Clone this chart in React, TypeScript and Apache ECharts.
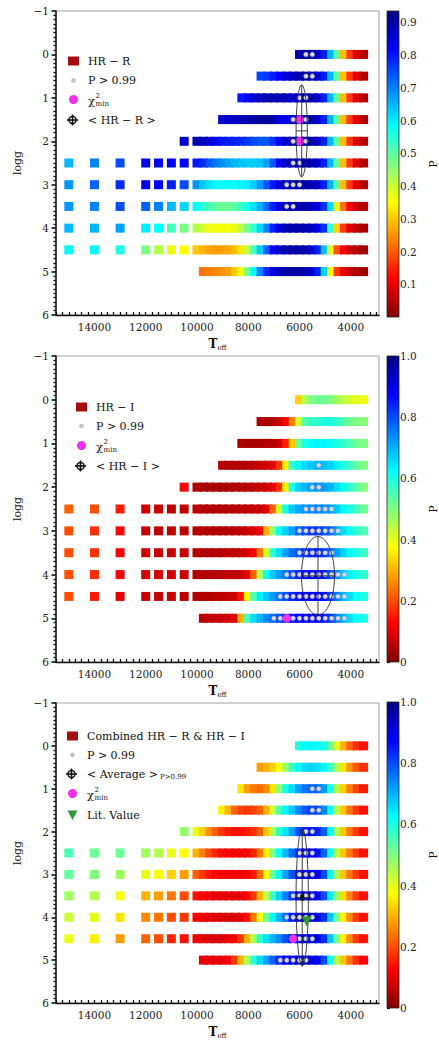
import React, { useEffect, useRef } from "react";
import * as echarts from "echarts";

const gap = (k: number) => Array(k).fill(null);

// Teff grid: isolated squares (15000..10500) then dense strip (10000..3500)
const TEFF = [15000, 14000, 13000, 12000, 11500, 11000, 10500,
  10000, 9750, 9500, 9250, 9000, 8750, 8500, 8250, 8000, 7750,
  7500, 7250, 7000, 6750, 6500, 6250, 6000, 5750, 5500,
  5250, 5000, 4750, 4500, 4250, 4000, 3750, 3500];
const LOGG = [0, 0.5, 1, 1.5, 2, 2.5, 3, 3.5, 4, 4.5, 5];

// Panel 1: HR - R probabilities (one row per logg)
const P_HRR = [
  [...gap(23), .89, .91, .9, .87, .79, .65, .5, .29, .17, .09, .05],
  [...gap(17), .76, .77, .79, .82, .85, .87, .89, .91, .89, .86, .79, .65, .5, .29, .17, .09, .05],
  [...gap(14), .80, .82, .86, .88, .89, .89, .89, .88, .87, .88, .9, .9, .87, .79, .65, .5, .29, .17, .09, .05],
  [...gap(11), .86, .87, .87, .88, .89, .9, .91, .91, .9, .85, .83, .86, .89, .9, .9, .87, .79, .65, .5, .29, .17, .09, .05],
  [...gap(6), .86, .89, .88, .86, .83, .80, .79, .79, .78, .77, .75, .74, .74, .77, .83, .87, .89, .9, .91, .9, .87, .79, .65, .5, .29, .17, .09, .05],
  [.65, .70, .75, .84, .84, .82, .82, .80, .78, .74, .71, .69, .67, .65, .64, .63, .63, .64, .67, .74, .82, .87, .89, .89, .9, .89, .87, .79, .65, .5, .29, .17, .09, .05],
  [.68, .73, .78, .84, .82, .79, .75, .68, .64, .61, .59, .58, .58, .58, .59, .6, .63, .68, .74, .8, .85, .88, .89, .9, .9, .89, .87, .79, .65, .5, .29, .17, .09, .05],
  [.68, .7, .75, .73, .7, .65, .62, .58, .55, .52, .5, .49, .49, .5, .53, .57, .61, .66, .72, .79, .85, .88, .89, .89, .89, .88, .84, .77, .62, .37, .22, .12, .07, .05],
  [.65, .65, .67, .6, .58, .52, .47, .42, .39, .37, .36, .36, .36, .37, .41, .47, .54, .62, .70, .79, .85, .88, .89, .89, .89, .88, .84, .77, .54, .31, .17, .09, .06, .04],
  [.59, .59, .56, .47, .42, .37, .35, .30, .28, .27, .26, .26, .27, .29, .33, .40, .52, .63, .73, .82, .87, .89, .9, .9, .89, .87, .79, .64, .37, .19, .11, .07, .05, .03],
  [...gap(8), .22, .23, .24, .25, .26, .3, .36, .47, .58, .7, .78, .85, .88, .89, .9, .9, .89, .87, .79, .62, .36, .17, .1, .07, .05, .03],
];

// Panel 2: HR - I probabilities
const P_HRI = [
  [...gap(23), .33, .45, .5, .52, .52, .5, .47, .44, .42, .4, .39],
  [...gap(17), .04, .04, .05, .07, .12, .25, .42, .54, .57, .58, .6, .6, .58, .55, .52, .5, .49],
  [...gap(14), .04, .04, .04, .04, .05, .05, .07, .15, .32, .52, .6, .62, .63, .63, .62, .6, .58, .55, .52, .5],
  [...gap(11), .05, .05, .05, .05, .05, .06, .07, .08, .1, .18, .36, .58, .63, .66, .68, .7, .69, .67, .64, .6, .57, .53, .5],
  [...gap(6), .12, .05, .04, .04, .04, .04, .04, .05, .05, .05, .06, .07, .08, .1, .17, .36, .6, .67, .7, .72, .73, .72, .7, .66, .62, .58, .54, .5],
  [.22, .2, .15, .08, .07, .06, .06, .06, .05, .05, .05, .05, .05, .05, .06, .06, .07, .07, .1, .22, .42, .6, .68, .71, .73, .74, .74, .73, .72, .68, .63, .6, .56, .52],
  [.2, .17, .13, .07, .06, .06, .06, .05, .05, .05, .05, .05, .05, .06, .06, .07, .09, .12, .3, .48, .62, .67, .72, .78, .8, .82, .82, .8, .78, .72, .66, .62, .58, .55],
  [.2, .17, .12, .08, .07, .07, .07, .05, .05, .05, .05, .05, .06, .06, .07, .08, .12, .24, .42, .58, .66, .72, .77, .8, .82, .84, .84, .82, .78, .72, .67, .63, .6, .57],
  [.2, .17, .12, .08, .08, .08, .07, .05, .05, .05, .05, .05, .06, .06, .07, .1, .22, .45, .62, .68, .72, .76, .8, .84, .86, .87, .87, .85, .8, .74, .68, .64, .6, .58],
  [.2, .15, .1, .07, .07, .07, .06, .05, .05, .05, .06, .06, .07, .08, .14, .36, .55, .64, .68, .72, .76, .8, .84, .86, .88, .88, .88, .86, .82, .76, .7, .66, .62, .6],
  [...gap(8), .06, .06, .07, .07, .08, .1, .3, .55, .66, .7, .74, .77, .8, .83, .86, .87, .88, .88, .88, .86, .82, .76, .7, .66, .62, .6],
];

// Panel 3: combined HR - R & HR - I probabilities
const P_COMB = [
  [...gap(23), .6, .62, .63, .62, .6, .52, .4, .3, .22, .17, .14],
  [...gap(17), .28, .3, .33, .38, .47, .57, .63, .66, .67, .66, .63, .57, .46, .35, .27, .21, .17],
  [...gap(14), .35, .28, .24, .23, .26, .35, .48, .6, .66, .72, .76, .78, .77, .72, .6, .45, .33, .25, .19, .15],
  [...gap(11), .36, .3, .22, .19, .18, .19, .22, .3, .42, .55, .63, .68, .74, .79, .81, .8, .74, .62, .45, .32, .24, .18, .14],
  [...gap(6), .48, .4, .33, .27, .22, .18, .15, .14, .14, .15, .17, .22, .32, .45, .58, .65, .72, .8, .85, .86, .84, .78, .63, .46, .32, .24, .18, .14],
  [.55, .52, .52, .47, .45, .4, .37, .3, .25, .2, .16, .14, .13, .12, .12, .13, .16, .24, .36, .5, .62, .7, .77, .84, .87, .88, .86, .78, .62, .45, .32, .24, .18, .14],
  [.53, .5, .47, .4, .38, .33, .28, .22, .18, .15, .13, .12, .11, .11, .11, .12, .15, .23, .37, .52, .63, .72, .8, .86, .89, .9, .88, .8, .63, .46, .32, .24, .18, .14],
  [.47, .45, .39, .3, .28, .24, .2, .14, .12, .11, .1, .1, .1, .1, .1, .12, .18, .3, .44, .57, .67, .75, .83, .88, .9, .9, .88, .8, .64, .48, .34, .25, .18, .14],
  [.43, .4, .35, .26, .24, .2, .18, .12, .11, .1, .09, .09, .09, .09, .1, .14, .24, .38, .52, .62, .7, .77, .85, .9, .92, .92, .9, .83, .68, .52, .36, .26, .18, .14],
  [.4, .36, .28, .22, .2, .16, .14, .11, .1, .09, .09, .09, .1, .12, .18, .3, .45, .58, .65, .7, .74, .8, .86, .9, .92, .92, .9, .83, .68, .52, .36, .26, .18, .14],
  [...gap(8), .1, .1, .1, .1, .12, .18, .3, .45, .58, .66, .72, .78, .84, .88, .9, .92, .92, .91, .88, .8, .62, .45, .32, .24, .17, .13],
];

// models with P > 0.99 [Teff, logg]
const HIGH_HRR = [[5750, 0], [5500, 0], [5750, 0.5], [5500, 0.5], [6000, 1], [5750, 1],
  [6250, 1.5], [6000, 1.5], [5750, 1.5], [6250, 2], [6000, 2], [5750, 2],
  [6250, 2.5], [6000, 2.5], [6500, 3], [6250, 3], [6000, 3], [6500, 3.5], [6250, 3.5]];
const HIGH_HRI = [[5250, 1.5], [5500, 2], [5250, 2],
  [5750, 2.5], [5500, 2.5], [5250, 2.5], [5000, 2.5], [4750, 2.5],
  [6000, 3], [5750, 3], [5500, 3], [5250, 3], [5000, 3], [4750, 3], [4500, 3],
  [6000, 3.5], [5750, 3.5], [5500, 3.5], [5250, 3.5], [5000, 3.5], [4750, 3.5],
  [6500, 4], [6250, 4], [6000, 4], [5750, 4], [5500, 4], [5250, 4], [5000, 4], [4750, 4], [4500, 4], [4250, 4],
  [6750, 4.5], [6500, 4.5], [6250, 4.5], [6000, 4.5], [5750, 4.5], [5500, 4.5], [5250, 4.5], [5000, 4.5], [4750, 4.5], [4500, 4.5], [4250, 4.5],
  [7000, 5], [6750, 5], [6250, 5], [6000, 5], [5750, 5], [5500, 5], [5250, 5], [5000, 5], [4750, 5], [4500, 5], [4250, 5]];
const HIGH_COMB = [[5500, 1], [5250, 1], [5500, 1.5], [5250, 1.5], [5750, 2], [5500, 2],
  [6000, 2.5], [5750, 2.5], [5500, 2.5], [6000, 3], [5750, 3], [5500, 3],
  [6250, 3.5], [6000, 3.5], [5750, 3.5], [5500, 3.5],
  [6500, 4], [6250, 4], [6000, 4], [5750, 4], [5500, 4],
  [6000, 4.5], [5750, 4.5], [5500, 4.5],
  [6750, 5], [6500, 5], [6250, 5], [6000, 5], [5750, 5]];

// chi2 minimum [Teff, logg]
const CHI_HRR = [[6000, 1.5], [6000, 2]];
const CHI_HRI = [[6500, 5]];
const CHI_COMB = [[6250, 4.5]];

// mean and spread [Teff, logg, sigmaTeff, sigmaLogg]
const MEAN_HRR = [[5915, 1.76, 220, 1.06]];
const MEAN_HRI = [[5280, 4.03, 645, 0.9]];
const MEAN_COMB = [[5895, 3.54, 240, 1.6]];

// literature value [Teff, logg]
const LIT_COMB = [[5720, 4.1]];

const X_LABELS = [4000, 6000, 8000, 10000, 12000, 14000];
const CB_LABELS = [
  [0.1, 0.2, 0.3, 0.4, 0.5, 0.6, 0.7, 0.8, 0.9],
  [0, 0.2, 0.4, 0.6, 0.8, 1.0],
  [0, 0.2, 0.4, 0.6, 0.8, 1.0],
];
const CB_MAX = [0.935, 1, 1];

const JET_R = ["#800000", "#ff0000", "#ff8000", "#ffff00", "#80ff80", "#00ffff", "#0080ff", "#0000ff", "#000080"];
const FONT = '"DejaVu Serif", serif';
const TOPS = [11, 356, 703];
const HEIGHTS = [304, 306, 305];
const CB_TOPS = [11, 356, 702];

function gridData(P: (number | null)[][]) {
  const out: number[][] = [];
  P.forEach((row, i) => {
    row.forEach((v, j) => {
      if (v !== null && v !== undefined) out.push([TEFF[j], LOGG[i], v]);
    });
  });
  return out;
}

function txt(x: number, y: number, text: string, size = 11, extra: any = {}) {
  return {
    type: "text", x, y, z: 10,
    style: { text, fill: "#111", font: `${size}px ${FONT}`, verticalAlign: "middle", textVerticalAlign: "middle", align: "left", ...extra },
  };
}

function legendSquare(cx: number, y: number) {
  return { type: "rect", z: 10, shape: { x: cx - 5.5, y: y - 4.5, width: 11, height: 9 }, style: { fill: "#a30f0f" } };
}
function legendDot(cx: number, y: number) {
  return { type: "circle", z: 10, shape: { cx, cy: y, r: 2.4 }, style: { fill: "#c4c4cc" } };
}
function legendChi(cx: number, y: number) {
  return { type: "circle", z: 10, shape: { cx, cy: y, r: 4.5 }, style: { fill: "#f030f0" } };
}
function legendCross(cx: number, y: number) {
  return {
    type: "group", z: 10, children: [
      { type: "circle", shape: { cx, cy: y, r: 3.6 }, style: { fill: "none", stroke: "#111", lineWidth: 1.4 } },
      { type: "line", shape: { x1: cx - 5.5, y1: y, x2: cx + 5.5, y2: y }, style: { stroke: "#111", lineWidth: 1.6 } },
      { type: "line", shape: { x1: cx, y1: y - 5.5, x2: cx, y2: y + 5.5 }, style: { stroke: "#111", lineWidth: 1.6 } },
    ],
  };
}
function legendTri(cx: number, y: number) {
  return { type: "polygon", z: 10, shape: { points: [[cx - 5, y - 4.5], [cx + 5, y - 4.5], [cx, y + 5]] }, style: { fill: "#2b9a35" } };
}
function chiText(x: number, y: number) {
  return [txt(x, y + 1, "χ", 11.5), txt(x + 7.5, y - 4, "2", 7), txt(x + 7.5, y + 4, "min", 7)];
}

function buildOption() {
  const grid: any[] = [];
  const xAxis: any[] = [];
  const yAxis: any[] = [];
  const series: any[] = [];
  const visualMap: any[] = [];
  const graphic: any[] = [];

  const xTicks: number[] = [];
  for (let t = 3000; t <= 15500; t += 250) xTicks.push(t);

  const panels = [
    { P: P_HRR, high: HIGH_HRR, chi: CHI_HRR, mean: MEAN_HRR, lit: null as any },
    { P: P_HRI, high: HIGH_HRI, chi: CHI_HRI, mean: MEAN_HRI, lit: null as any },
    { P: P_COMB, high: HIGH_COMB, chi: CHI_COMB, mean: MEAN_COMB, lit: LIT_COMB },
  ];

  panels.forEach((pan, p) => {
    grid.push({ left: 56, top: TOPS[p], width: 323, height: HEIGHTS[p], show: true, borderColor: "#8c8c8c", borderWidth: 0.8, backgroundColor: "transparent" });
    xAxis.push({
      gridIndex: p, type: "value", min: 2900, max: 15500, inverse: true,
      axisLine: { show: true, onZero: false, lineStyle: { color: "#111", width: 1.3 } },
      axisTick: { show: true, inside: true, length: 3, customValues: xTicks, lineStyle: { color: "#111", width: 1.3 } },
      axisLabel: { customValues: X_LABELS, margin: 6, fontSize: 10.5, color: "#222", fontFamily: FONT, formatter: (v: number) => String(v) },
      splitLine: { show: false },
      name: "{t|T}{s|eff}", nameLocation: "middle", nameGap: 22,
      nameTextStyle: {
        color: "#111", fontFamily: FONT,
        rich: {
          t: { fontSize: 12, fontFamily: FONT, fontWeight: "bold", color: "#111", lineHeight: 14 },
          s: { fontSize: 7, fontFamily: FONT, color: "#111", verticalAlign: "bottom", padding: [7, 0, 0, 0] },
        },
      },
    });
    yAxis.push({
      gridIndex: p, type: "value", min: -1, max: 6, interval: 1, inverse: true,
      axisLine: { show: true, onZero: false, lineStyle: { color: "#111", width: 1.5 } },
      axisTick: { show: true, length: 4.5, lineStyle: { color: "#111", width: 1.6 } },
      minorTick: { show: true, splitNumber: 10, length: 2.5, lineStyle: { color: "#111", width: 1.4 } },
      axisLabel: { margin: 7, fontSize: 10.5, color: "#222", fontFamily: FONT, formatter: (v: number) => (v < 0 ? "\u2212" + Math.abs(v) : String(v)) },
      splitLine: { show: false },
      name: "logg", nameLocation: "middle", nameGap: 30,
      nameTextStyle: { fontSize: 11, fontFamily: FONT, color: "#111" },
    });

    const mainIdx = series.length;
    series.push({
      type: "scatter", xAxisIndex: p, yAxisIndex: p, symbol: "rect", symbolSize: 9,
      itemStyle: { opacity: 1 },
      data: gridData(pan.P), z: 2, silent: true, animation: false,
    });
    visualMap.push({ type: "continuous", show: false, seriesIndex: mainIdx, dimension: 2, min: 0, max: CB_MAX[p], inRange: { color: JET_R } });

    series.push({
      type: "scatter", xAxisIndex: p, yAxisIndex: p, symbol: "circle", symbolSize: 4.6,
      itemStyle: { color: "#d6d6e2", borderColor: "#9a9ab0", borderWidth: 0.4, opacity: 1 }, data: pan.high, z: 4, silent: true,
    });
    series.push({
      type: "scatter", xAxisIndex: p, yAxisIndex: p, symbol: "circle", symbolSize: 8.5,
      itemStyle: { color: "#f030f0", opacity: 1 }, data: pan.chi, z: 5, silent: true,
    });
    series.push({
      type: "custom", xAxisIndex: p, yAxisIndex: p, data: pan.mean, z: 6, silent: true,
      encode: { x: 0, y: 1 },
      renderItem: (params: any, api: any) => {
        const T = api.value(0), g = api.value(1), sT = api.value(2), sG = api.value(3);
        const c = api.coord([T, g]);
        const px = api.coord([T - sT, g]);
        const py = api.coord([T, g + sG]);
        const rx = Math.abs(px[0] - c[0]);
        const ry = Math.abs(py[1] - c[1]);
        const st = { stroke: "#2a2a3a", lineWidth: 0.9, fill: "none" };
        const children: any[] = [
          { type: "ellipse", shape: { cx: c[0], cy: c[1], rx, ry }, style: st },
          { type: "line", shape: { x1: c[0], y1: c[1] - ry, x2: c[0], y2: c[1] + ry }, style: st },
          { type: "line", shape: { x1: c[0] - rx, y1: c[1], x2: c[0] + rx, y2: c[1] }, style: st },
        ];
        if (p === 2) children.push({ type: "rect", shape: { x: c[0] - 2, y: c[1] - 3, width: 4, height: 6 }, style: { fill: "#111" } });
        return { type: "group", children };
      },
    });
    if (pan.lit) {
      series.push({
        type: "scatter", xAxisIndex: p, yAxisIndex: p, symbol: "triangle", symbolRotate: 180, symbolSize: 10,
        itemStyle: { color: "#2b9a35", opacity: 1 }, data: pan.lit, z: 7, silent: true,
      });
    }
  });

  // colorbars
  panels.forEach((_, p) => {
    const gi = 3 + p;
    grid.push({ left: 387, top: CB_TOPS[p], width: 12, height: 306 });
    xAxis.push({ gridIndex: gi, type: "value", show: false, min: 0, max: 1 });
    yAxis.push({
      gridIndex: gi, type: "value", position: "right", min: 0, max: CB_MAX[p],
      axisLine: { show: false },
      axisTick: { show: true, length: 3, customValues: CB_LABELS[p], lineStyle: { color: "#111", width: 1.2 } },
      axisLabel: {
        customValues: CB_LABELS[p], margin: 5, fontSize: 10.5, color: "#222", fontFamily: FONT,
        formatter: (v: number) => (v === 0 ? "0" : v.toFixed(1)),
      },
      splitLine: { show: false },
      name: "P", nameLocation: "middle", nameGap: 32, nameRotate: 90,
      nameTextStyle: { fontSize: 10.5, fontFamily: FONT, color: "#111" },
    });
    graphic.push({
      type: "rect", z: 1,
      shape: { x: 387, y: CB_TOPS[p], width: 12, height: 306 },
      style: {
        fill: { type: "linear", x: 0, y: 1, x2: 0, y2: 0, colorStops: JET_R.map((c, i) => ({ offset: i / (JET_R.length - 1), color: c })) },
        stroke: "#222", lineWidth: 0.8,
      },
    });
  });

  // legends
  // panel 1
  graphic.push(legendSquare(73.5, 61), txt(88, 61, "HR − R"));
  graphic.push(legendDot(73.5, 80.5), txt(88, 80.5, "P > 0.99"));
  graphic.push(legendChi(73.5, 99.5), ...chiText(88, 99.5));
  graphic.push(legendCross(72.5, 120), txt(88, 120, "< HR − R >"));
  // panel 2
  graphic.push(legendSquare(81.5, 407), txt(96, 407, "HR − I"));
  graphic.push(legendDot(81.5, 426), txt(96, 426, "P > 0.99"));
  graphic.push(legendChi(81.5, 445.5), ...chiText(96, 445.5));
  graphic.push(legendCross(80.5, 466), txt(96, 466, "< HR − I >"));
  // panel 3
  graphic.push(legendSquare(72.5, 736), txt(87, 736, "Combined HR − R & HR − I"));
  graphic.push(legendDot(72.5, 755), txt(87, 755, "P > 0.99"));
  graphic.push(legendCross(71.5, 774), txt(87, 774, "< Average >"), txt(160, 777, "P>0.99", 7));
  graphic.push(legendChi(72.5, 793.5), ...chiText(87, 793.5));
  graphic.push(legendTri(72.5, 815), txt(87, 815, "Lit. Value"));

  return {
    animation: false,
    backgroundColor: "#fff",
    textStyle: { fontFamily: FONT },
    grid, xAxis, yAxis, series, visualMap, graphic,
  };
}

export default function App() {
  const ref = useRef<HTMLDivElement>(null);
  useEffect(() => {
    if (!ref.current) return;
    const chart = echarts.init(ref.current, null, { renderer: "svg" });
    chart.setOption(buildOption() as any);
    return () => chart.dispose();
  }, []);
  return (
    <div
      ref={ref}
      style={{ position: "fixed", left: 0, top: 0, width: 439, height: 1040, background: "#fff" }}
    />
  );
}
